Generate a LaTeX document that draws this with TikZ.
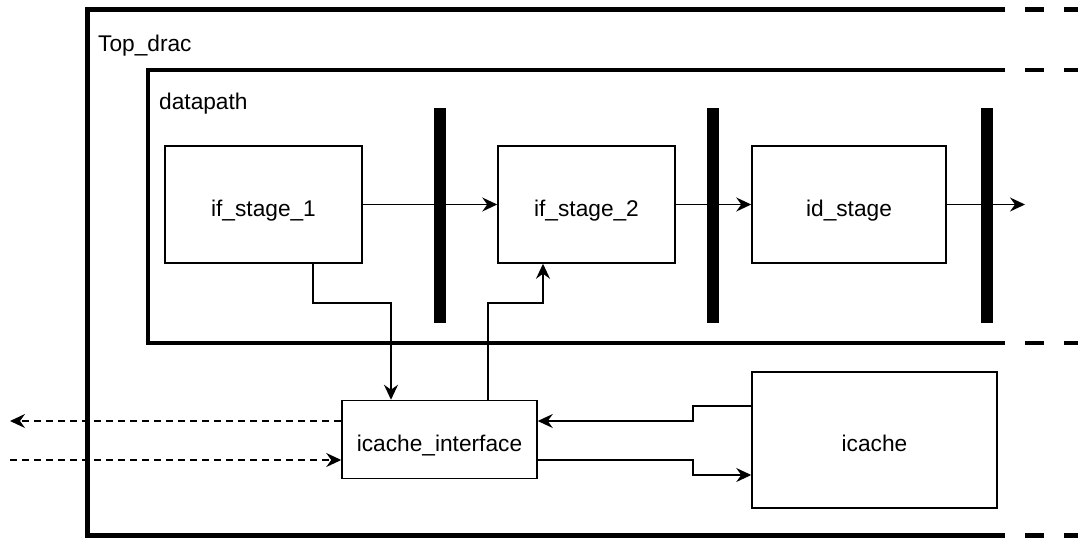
\documentclass[tikz,border=0pt]{standalone}
\usepackage{fontspec}
\setmainfont{Liberation Sans}
\usetikzlibrary{arrows.meta}
\tikzset{
  blk/.style={draw, line width=1.5pt, inner sep=0pt, minimum height=117pt,
    text height=23.5pt, text depth=0pt,
    font=\fontsize{22.7}{27}\selectfont},
  reg/.style={fill=black, draw=none, inner sep=0pt, minimum width=12pt, minimum height=215pt},
  wire/.style={line width=1.5pt, -{Stealth[length=15pt,width=14pt,inset=5pt]}},
  ext/.style={wire, dash pattern=on 7pt off 5pt},
  lbl/.style={anchor=base west, inner sep=0pt, font=\fontsize{22.7}{27}\selectfont},
  topline/.style={line width=5pt},
  dpline/.style={line width=4pt},
}
\begin{document}
\begin{tikzpicture}[x=1pt, y=-1pt]
  \useasboundingbox (0,0) rectangle (1078,538);

  % Top_drac container (open on the right)
  \draw[topline, line join=miter] (1005,9) -- (87,9) -- (87,535) -- (1005,535);
  \draw[topline, dash pattern=on 19pt off 20pt] (1025,9) -- (1078,9);
  \draw[topline, dash pattern=on 19pt off 20pt] (1025,535) -- (1078,535);
  \node[lbl] (toplbl) at (98,51) {Top\_drac};

  % datapath container (open on the right)
  \draw[dpline, line join=miter] (1005,70) -- (148,70) -- (148,343) -- (1005,343);
  \draw[dpline, dash pattern=on 19pt off 20pt] (1025,70) -- (1078,70);
  \draw[dpline, dash pattern=on 19pt off 20pt] (1025,343) -- (1078,343);
  \node[lbl] (dplbl) at (159,109) {datapath};

  % pipeline stages
  \node[blk, minimum width=197pt] (if1) at (263.5,204.5) {if\_stage\_1};
  \node[blk, minimum width=177pt] (if2) at (586.5,204.5) {if\_stage\_2};
  \node[blk, minimum width=194pt] (ids) at (849,204.5) {id\_stage};

  % pipeline registers
  \node[reg] (r1) at (440,215.5) {};
  \node[reg] (r2) at (713,215.5) {};
  \node[reg] (r3) at (987,215.5) {};

  % cache blocks
  \node[blk, minimum width=195pt, minimum height=78pt] (ici) at (439.5,439.5) {icache\_interface};
  \node[blk, minimum width=245pt, minimum height=136pt] (ic) at (874.5,440) {icache};

  % routing points
  \coordinate (out) at (1025,204.5);
  \coordinate (c1) at (313,303);
  \coordinate (c2) at (391,303);
  \coordinate (c3) at (488,303);
  \coordinate (c4) at (543,303);
  \coordinate (c5) at (693,406);
  \coordinate (c6) at (693,421);
  \coordinate (c7) at (693,460);
  \coordinate (c8) at (693,475);
  \coordinate (xo) at (10,421);
  \coordinate (xi) at (10,460);

  % datapath flow
  \draw[wire] (if1.east) -- (if2.west);
  \draw[wire] (if2.east) -- (ids.west);
  \draw[wire] (ids.east) -- (out);

  % fetch requests and responses
  \draw[wire] (if1.south -| c1) -- (c1) -- (c2) -- (ici.north -| c2);
  \draw[wire] (ici.north -| c3) -- (c3) -- (c4) -- (if2.south -| c4);
  \draw[wire] (ic.west |- c5) -- (c5) -- (c6) -- (ici.east |- c6);
  \draw[wire] (ici.east |- c7) -- (c7) -- (c8) -- (ic.west |- c8);

  % external memory port
  \draw[ext] (ici.west |- xo) -- (xo);
  \draw[ext] (xi) -- (ici.west |- xi);
\end{tikzpicture}
\end{document}
